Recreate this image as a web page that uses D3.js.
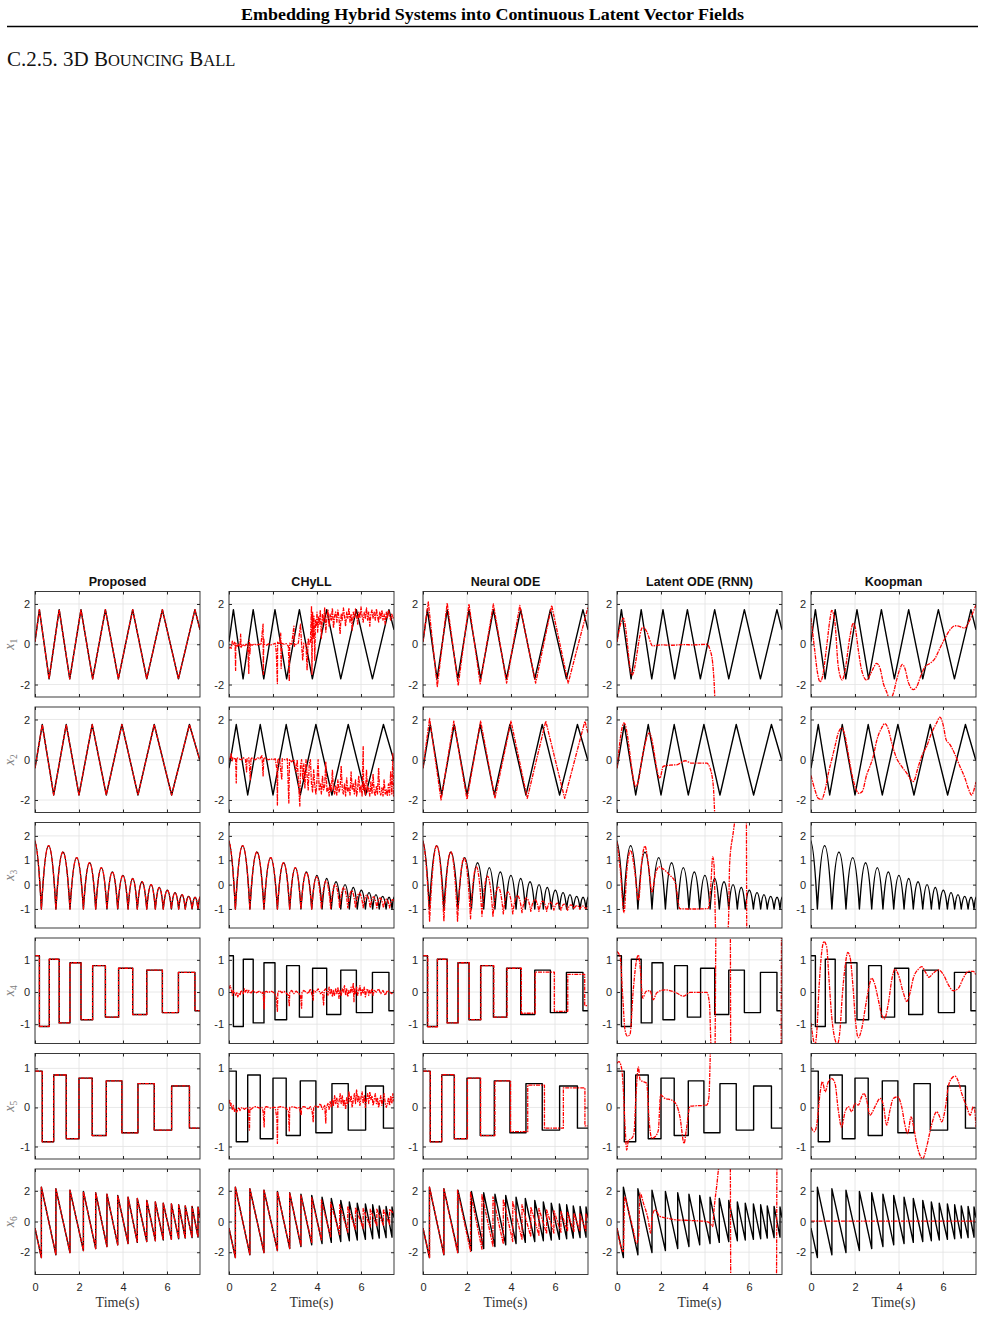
<!DOCTYPE html>
<html>
<head>
<meta charset="utf-8">
<title>3D Bouncing Ball</title>
<script src="https://cdn.jsdelivr.net/npm/d3@7"></script>
<style>
  body { margin: 0; background: #fff; }
  svg text { font-family: "Liberation Sans", Arial, sans-serif; }
  svg text.serif { font-family: "Liberation Serif", "Times New Roman", serif; }
  .tick text { font-size: 11px; fill: #262626; }
  .grid line { stroke: #e2e2e2; stroke-width: 0.8; }
  .truth { fill: none; stroke: #000; stroke-width: 1.4; stroke-linejoin: round; }
  .pred { fill: none; stroke: #f00; stroke-width: 1.3; stroke-dasharray: 4 1 1.5 1; stroke-linejoin: round; }
</style>
</head>
<body>
<script>
var W = 985, H = 1317;

// ---- labels / axes ----
var methods = ["Proposed", "CHyLL", "Neural ODE", "Latent ODE (RNN)", "Koopman"];
var stateIdx = ["1", "2", "3", "4", "5", "6"];
var timeTicks = [0, 2, 4, 6];
var timeMax = 7.5;
var yLimits = [[-2.62, 2.62], [-2.62, 2.62], [-1.78, 2.55], [-1.6, 1.68], [-1.32, 1.38], [-3.45, 3.42]];
var yTicks = [[-2, 0, 2], [-2, 0, 2], [-1, 0, 1, 2], [-1, 0, 1], [-1, 0, 1], [-2, 0, 2]];

// ---- ground truth ----
var x1True = [[0,0.13],[0.2,1.72],[0.64,-1.72],[1.1,1.72],[1.58,-1.72],[2.09,1.72],[2.62,-1.72],[3.2,1.72],
  [3.79,-1.72],[4.44,1.72],[5.08,-1.72],[5.79,1.72],[6.52,-1.72],[7.27,1.72],[7.5,0.72]];
var x2True = [[0,-0.42],[0.33,1.75],[0.85,-1.75],[1.42,1.75],[2.0,-1.75],[2.6,1.75],[3.24,-1.75],[3.95,1.75],
  [4.68,-1.75],[5.42,1.75],[6.21,-1.75],[7.02,1.75],[7.5,-0.05]];
var x3Bounce = [-0.38,0.29,0.95,1.59,2.2,2.76,3.27,3.76,4.23,4.65,5.08,5.47,5.83,6.2,6.53,6.83,7.14,7.41,7.62];
var x3Peak = [1.85,1.6,1.34,1.11,0.9,0.7,0.52,0.38,0.25,0.12,0.0,-0.12,-0.23,-0.33,-0.41,-0.48,-0.52,-0.5];
var x4Switch = [0.2,0.65,1.1,1.59,2.09,2.62,3.2,3.8,4.44,5.08,5.79,6.52,7.27];
var x4Level = [1.13,-1.07,1.02,-0.96,0.91,-0.86,0.82,-0.78,0.74,-0.7,0.68,-0.64,0.61,-0.58];
var x5Switch = [0.33,0.85,1.42,2.0,2.6,3.24,3.95,4.68,5.42,6.21,7.02];
var x5Level = [0.93,-0.88,0.83,-0.8,0.75,-0.72,0.68,-0.65,0.61,-0.58,0.55,-0.53];
var x6Bottom = [-2.35,-2.17,-2.02,-1.89,-1.76,-1.63,-1.52,-1.43,-1.36,-1.3,-1.25,-1.2,-1.16,-1.12,-1.08,-1.05,-1.02];
var x6Top = [2.24,2.13,2.04,1.96,1.87,1.78,1.7,1.59,1.5,1.37,1.28,1.2,1.15,1.09,1.02,0.98,0.95];

// ---- CHyLL ----
var chyllX1 = [[0,-0.2],[0.05,-0.15],[0.1,-0.2],[0.15,0.15],[0.2,-0.05],[0.25,0.1],[0.28,-0.1],[0.3,-1.3],[0.31,0.05],
  [0.38,-0.1],[0.45,0],[0.5,-0.1],[0.53,0.5],[0.55,-0.15],[0.62,0],[0.7,-0.1],[0.78,0],[0.85,-0.05],[0.9,-1.45],
  [0.92,0.2],[0.95,-0.5],[0.97,0],[1.05,-0.05],[1.15,0.02],[1.25,-0.05],[1.35,0],[1.45,-0.03],[1.55,1.0],[1.56,-1.5],
  [1.58,0.3],[1.6,0],[1.7,-0.05],[1.8,0.02],[1.9,-0.03],[2.0,0],[2.1,0.05],[2.15,-0.4],[2.2,-1.95],[2.21,0.1],
  [2.3,0],[2.35,0.55],[2.37,-1.2],[2.4,0.05],[2.5,0],[2.6,0.03],[2.7,-0.1],[2.74,-1.85],[2.76,0.05],[2.85,0],
  [2.95,0.9],[2.97,-0.1],[3.05,0],[3.15,0.05],[3.25,1.0],[3.3,0],[3.35,-0.8],[3.4,0.05],[3.5,0],[3.55,-1.3],
  [3.6,0.3],[3.65,0],[3.7,0.1],[3.75,1.9],[3.77,-1.5],[3.8,1.6],[3.83,0.3],[3.86,1.4],[3.9,-0.8],[3.93,1.2],
  [3.97,0.9],[4.0,1.6],[4.03,0.6],[4.07,1.4],[4.1,1.0],[4.15,1.7],[4.2,0.3],[4.25,1.5],[4.3,1.1],[4.35,1.8],
  [4.4,0.6],[4.45,1.3],[4.5,1.7],[4.55,0.9],[4.6,1.5],[4.65,1.2],[4.7,1.8],[4.75,0.8],[4.8,1.4],[4.85,1.6],
  [4.9,1.1],[4.95,1.7],[5.0,1.3],[5.05,0.5],[5.1,1.5],[5.15,1.2],[5.2,1.8],[5.25,1.4],[5.3,0.9],[5.35,1.6],
  [5.4,1.3],[5.45,1.8],[5.5,1.1],[5.55,1.5],[5.6,0.7],[5.65,1.6],[5.7,1.3],[5.75,1.75],[5.8,1.4],[5.85,1.0],
  [5.9,1.6],[5.95,1.3],[6.0,1.85],[6.05,1.4],[6.1,1.1],[6.15,1.6],[6.2,1.3],[6.25,1.8],[6.3,1.2],[6.35,1.6],
  [6.4,0.9],[6.45,1.5],[6.5,1.7],[6.55,1.3],[6.6,1.6],[6.65,1.2],[6.7,1.75],[6.75,1.4],[6.8,1.1],[6.85,1.6],
  [6.9,1.3],[6.95,1.7],[7.0,1.2],[7.05,1.5],[7.1,1.0],[7.15,1.6],[7.2,1.3],[7.25,1.7],[7.3,1.4],[7.35,1.2],
  [7.4,1.5],[7.45,1.3],[7.5,1.4]];
var chyllX2 = [[0,0],[0.05,0.1],[0.1,0.3],[0.13,-0.1],[0.18,0.1],[0.25,0.05],[0.3,0.1],[0.33,-1.15],[0.35,0.1],
  [0.45,0.05],[0.55,0],[0.65,0.1],[0.75,0],[0.8,-0.6],[0.82,0.05],[0.9,0.1],[0.97,-1.0],[1.0,0.1],[1.1,0.05],
  [1.2,0],[1.3,0.1],[1.4,0.05],[1.5,0.2],[1.55,-0.8],[1.58,0.1],[1.7,0.05],[1.8,0],[1.9,0.05],[2.0,0],[2.1,0.05],
  [2.18,-0.5],[2.2,-2.25],[2.22,0.05],[2.3,0],[2.4,-1.0],[2.42,0.05],[2.55,0],[2.65,0.05],[2.72,-2.15],[2.75,0],
  [2.85,-0.1],[2.95,0],[3.05,-0.6],[3.1,0],[3.22,-2.3],[3.25,-0.3],[3.3,0],[3.35,-1.0],[3.4,-0.2],[3.45,-1.4],
  [3.5,0],[3.55,-0.8],[3.6,-1.5],[3.65,-0.2],[3.7,0],[3.75,-1.2],[3.8,-1.6],[3.85,-0.5],[3.9,-1.3],[3.95,-1.7],
  [4.0,-1.0],[4.05,0],[4.1,-1.5],[4.15,-1.2],[4.2,-1.7],[4.25,-0.8],[4.3,-1.5],[4.35,-1.3],[4.4,-0.1],[4.45,-1.6],
  [4.5,-1.4],[4.55,-1.8],[4.6,-1.2],[4.65,-1.6],[4.7,-0.5],[4.75,-1.5],[4.8,-1.7],[4.85,-1.3],[4.9,-1.75],
  [4.95,-1.0],[5.0,-1.6],[5.05,-1.4],[5.1,-0.3],[5.15,-1.5],[5.2,-1.7],[5.25,-1.2],[5.3,-1.8],[5.35,-0.9],
  [5.4,-1.6],[5.45,-1.4],[5.5,-1.75],[5.55,-0.6],[5.6,-1.5],[5.65,-1.2],[5.7,-1.7],[5.75,-1.0],[5.8,-1.8],
  [5.85,-1.4],[5.9,-0.8],[5.95,-1.6],[6.0,-1.3],[6.05,-1.8],[6.1,0.65],[6.12,-1.5],[6.15,-1.2],[6.2,-1.75],
  [6.25,-0.5],[6.3,-1.6],[6.35,-1.4],[6.4,-1.8],[6.45,-1.1],[6.5,-1.7],[6.55,-0.7],[6.6,-1.6],[6.65,-1.8],
  [6.7,-1.3],[6.75,-1.7],[6.8,-0.4],[6.85,-1.6],[6.9,-1.75],[6.95,-1.4],[7.0,-1.8],[7.05,-1.0],[7.1,-1.7],
  [7.15,-1.5],[7.2,-1.8],[7.25,-1.2],[7.3,-1.75],[7.35,-0.6],[7.4,-1.7],[7.45,0.3],[7.48,-1.8],[7.5,-1.7]];
var chyllBounce = [-0.38,0.29,0.95,1.59,2.2,2.76,3.27,3.76,4.2,4.62,5.03,5.4,5.75,6.1,6.42,6.72,7.02,7.3,7.58];
var chyllFloor = [-1,-1,-1,-1,-1,-1,-1,-1,-1,-0.98,-0.96,-0.95,-0.95,-0.95,-0.95,-0.95,-0.95,-0.95,-0.95];
var chyllPeak = [1.85,1.6,1.34,1.11,0.9,0.7,0.5,0.32,0.15,0.0,-0.12,-0.25,-0.35,-0.43,-0.5,-0.55,-0.6,-0.62];
var chyllX4 = [[0,0.1],[0.05,0.2],[0.1,0.1],[0.15,-0.1],[0.2,0.05],[0.25,-0.05],[0.3,-0.1],[0.35,0],[0.4,-0.15],
  [0.45,-0.05],[0.5,-0.1],[0.55,0.05],[0.6,0],[0.65,-0.05],[0.7,0.1],[0.75,0],[0.8,0.08],[0.85,-0.02],[0.9,0.05],
  [0.95,0],[1.0,-0.05],[1.05,0.02],[1.1,0.05],[1.2,-0.03],[1.3,0],[1.4,0.03],[1.5,-0.05],[1.55,0],[1.6,-0.55],
  [1.62,0],[1.7,0.02],[1.8,-0.02],[1.9,0.03],[2.0,0],[2.1,-0.05],[2.15,-0.2],[2.2,-0.6],[2.22,0],[2.3,0.05],
  [2.4,-0.02],[2.5,0.02],[2.6,-0.03],[2.7,-0.1],[2.74,-0.45],[2.76,0],[2.85,0.05],[2.95,-0.05],[3.05,0.03],
  [3.15,-0.03],[3.25,-0.1],[3.3,-0.5],[3.32,0],[3.4,0.05],[3.5,0],[3.6,-0.05],[3.7,0.1],[3.78,-0.1],[3.83,-0.25],
  [3.85,0.05],[3.95,0],[4.05,0.1],[4.15,-0.05],[4.25,0],[4.3,-0.4],[4.33,0.05],[4.4,0.1],[4.5,-0.1],[4.55,0.15],
  [4.6,-0.05],[4.65,0.1],[4.7,-0.15],[4.75,0.05],[4.8,-0.1],[4.85,0.1],[4.9,-0.05],[4.95,0.15],[5.0,-0.2],
  [5.05,0.05],[5.1,-0.1],[5.15,0.1],[5.2,0],[5.25,0.2],[5.3,-0.1],[5.35,0.1],[5.4,-0.15],[5.45,0.05],[5.5,-0.05],
  [5.55,0.15],[5.6,0],[5.65,0.28],[5.68,-0.3],[5.7,0.1],[5.75,-0.05],[5.8,0.15],[5.85,-0.1],[5.9,0.05],[5.95,0.2],
  [6.0,-0.1],[6.05,0.1],[6.1,-0.05],[6.15,0.15],[6.2,-0.15],[6.25,0.05],[6.3,0.1],[6.35,-0.1],[6.4,0.05],
  [6.45,-0.05],[6.5,0.1],[6.55,-0.1],[6.6,0.05],[6.7,0],[6.8,0.1],[6.9,-0.05],[7.0,0.05],[7.1,-0.1],[7.2,0.05],
  [7.3,0],[7.4,-0.05],[7.5,0.05]];
var chyllX5 = [[0,0.1],[0.03,0.18],[0.07,0.05],[0.1,0.1],[0.15,-0.05],[0.2,0.05],[0.25,-0.1],[0.3,-0.05],[0.35,-0.12],
  [0.4,-0.05],[0.45,0],[0.5,-0.08],[0.55,-0.02],[0.6,0],[0.7,-0.05],[0.8,0],[0.88,-0.05],[0.93,-0.58],[0.95,0],
  [1.0,-0.05],[1.1,0],[1.2,0.02],[1.3,0],[1.4,-0.02],[1.5,0],[1.55,-0.1],[1.6,-0.5],[1.62,0],[1.7,0.02],[1.8,0],
  [1.9,-0.02],[2.0,0],[2.1,0],[2.18,-0.3],[2.2,-0.92],[2.22,0],[2.35,0.02],[2.5,0],[2.6,-0.02],[2.7,-0.1],
  [2.74,-0.6],[2.76,0],[2.9,0.02],[3.0,0],[3.1,-0.02],[3.2,0],[3.28,-0.2],[3.3,0],[3.4,0.02],[3.5,0],[3.6,-0.05],
  [3.7,0.02],[3.78,-0.1],[3.83,-0.38],[3.85,0],[3.95,0.05],[4.05,0],[4.15,0.1],[4.25,-0.05],[4.35,0.05],[4.4,-0.4],
  [4.42,0],[4.5,0.1],[4.55,-0.05],[4.6,0.15],[4.65,0],[4.7,0.2],[4.75,0.05],[4.8,0.3],[4.85,0.1],[4.9,0.25],
  [4.95,0],[5.0,0.15],[5.05,0.35],[5.1,0.1],[5.15,0.3],[5.2,0.05],[5.25,0.2],[5.3,-0.05],[5.35,0.25],[5.4,0.1],
  [5.45,0.4],[5.5,0.15],[5.55,0.3],[5.6,0],[5.65,0.2],[5.7,0.35],[5.75,0.1],[5.8,0.45],[5.85,0.15],[5.9,0.3],
  [5.95,0.05],[6.0,0.25],[6.05,0.4],[6.1,0.1],[6.15,0.3],[6.2,0],[6.25,0.2],[6.3,0.35],[6.35,0.1],[6.4,0.4],
  [6.45,0.2],[6.5,0.3],[6.55,0.05],[6.6,0.2],[6.65,0.35],[6.7,0.1],[6.75,0.25],[6.8,0],[6.85,0.15],[6.9,0.3],
  [6.95,0.05],[7.0,0.2],[7.05,0.35],[7.1,0.1],[7.15,0],[7.2,0.1],[7.25,0.25],[7.3,0.05],[7.35,0.3],[7.4,0.1],
  [7.45,0.35],[7.5,0.15]];
var chyllX6Bottom = [-2.35,-2.17,-2.02,-1.89,-1.74,-1.55,-1.4,-1.2,-1.0,-0.85,-0.7,-0.55,-0.45,-0.35,-0.3,-0.25,-0.2];
var chyllX6Top = [2.24,2.13,2.04,1.96,1.85,1.7,1.55,1.4,1.25,1.1,1.0,0.9,0.85,0.8,0.8,0.8,0.8];

// ---- Neural ODE ----
var nodeX1 = [[0,0.13],[0.24,2.1],[0.65,-2.1],[1.1,2.05],[1.6,-2.05],[2.09,2.0],[2.6,-1.97],[3.2,2.0],[3.8,-1.93],
  [4.4,1.93],[5.12,-1.93],[5.85,1.93],[6.6,-1.93],[7.5,1.85]];
var nodeX2 = [[0,-0.42],[0.3,2.05],[0.82,-2.0],[1.4,1.92],[2.0,-1.97],[2.62,1.92],[3.27,-1.92],[4.0,1.92],
  [4.74,-1.92],[5.58,1.92],[6.44,-1.92],[7.36,1.92],[7.5,1.33]];
var nodeBounce = [-0.38,0.3,0.95,1.57,2.16,2.68,3.18,3.65,4.08,4.5,4.9,5.27,5.62,5.95,6.27,6.57,6.86,7.13,7.4,7.66];
var nodeFloor = [-1,-1.5,-1.5,-1.5,-1.4,-1.3,-1.3,-1.2,-1.2,-1.15,-1.1,-1.1,-1.1,-1.05,-1.05,-1.05,-1.0,-1.0,-1.0,-1.0];
var nodePeak = [1.85,1.6,1.35,1.1,0.73,0.35,-0.1,-0.3,-0.45,-0.55,-0.62,-0.68,-0.72,-0.76,-0.8,-0.83,-0.86,-0.88,-0.9];
var nodeX4Switch = [0.22,0.66,1.1,1.6,2.1,2.63,3.22,3.82,4.47,5.1,5.97,6.58,7.35];
var nodeX4Level = [1.13,-1.08,1.02,-0.96,0.91,-0.86,0.82,-0.78,0.74,-0.66,0.62,-0.6,0.55,-0.42];
var nodeX5Switch = [0.33,0.85,1.43,2.02,2.62,3.27,3.98,4.76,5.52,6.38,7.36];
var nodeX5Level = [0.93,-0.88,0.84,-0.8,0.75,-0.72,0.68,-0.62,0.57,-0.53,0.5,-0.47];
var nodeX6Bottom = [-2.35,-2.17,-2.02,-1.95,-1.8,-1.6,-1.45,-1.3,-1.15,-1.0,-0.9,-0.8,-0.75,-0.7,-0.65,-0.65,-0.6,-0.6];
var nodeX6Top = [2.24,2.13,2.04,1.9,1.75,1.6,1.45,1.3,1.1,0.95,0.85,0.75,0.7,0.65,0.6,0.55,0.5,0.5];

// ---- Latent ODE (RNN) ----
var latX1 = [[0,0.13],[0.29,1.3],[0.68,-1.53],[1.17,0.85],[1.35,0.63],[1.62,-0.08],[2.0,-0.03],[2.5,-0.05],
  [3.0,-0.02],[3.5,-0.03],[4.08,0],[4.23,-0.28],[4.35,-0.95],[4.41,-1.8],[4.47,-3.0],[7.5,-3.0]];
var latX2 = [[0,-0.42],[0.32,1.83],[0.86,-1.33],[0.95,-1.15],[1.17,0.25],[1.47,1.33],[1.95,-0.92],[2.1,-0.33],
  [2.4,-0.27],[2.71,-0.25],[3.1,-0.05],[3.4,-0.17],[4.08,-0.17],[4.23,-0.42],[4.38,-1.33],[4.47,-3.0],[7.5,-3.0]];
var latX3 = [[0,1.75],[0.15,0.6],[0.32,-1.15],[0.45,0.6],[0.62,1.41],[0.8,0.6],[0.98,-0.64],[1.12,0.9],[1.27,1.58],
  [1.43,0.8],[1.59,-0.3],[1.75,0.45],[1.91,0.73],[2.03,0.68],[2.41,0.38],[2.64,0.11],[2.86,-0.99],[3.2,-1.0],
  [3.6,-1.0],[4.15,-0.98],[4.26,-0.1],[4.35,1.14],[4.41,0.8],[4.5,-2.2],[4.9,-2.2],[5.06,-1.7],[5.12,0.86],
  [5.27,2.05],[5.42,2.8],[5.88,2.8],[5.9,-2.2],[7.5,-2.2]];
var latX4 = [[0,1.26],[0.14,1.1],[0.26,-0.13],[0.36,-1.16],[0.47,-1.37],[0.59,-1.32],[0.74,0.07],[0.89,1.0],
  [0.97,1.15],[1.05,0.8],[1.17,-0.19],[1.32,0.02],[1.5,0.04],[1.65,-0.24],[1.8,-0.03],[2.18,0.07],[2.71,-0.03],
  [3.02,-0.13],[3.32,-0.01],[4.08,-0.01],[4.2,-0.34],[4.3,-2.0],[4.45,-2.0],[4.5,2.0],[5.15,2.0],[5.17,-2.0],
  [7.46,-2.0],[7.48,2.0],[7.5,2.0]];
var latX5 = [[0,1.13],[0.09,1.17],[0.21,1.0],[0.29,0.44],[0.36,-0.41],[0.44,-1.09],[0.52,-0.84],[0.67,-0.79],
  [0.77,-0.67],[0.86,0.27],[0.97,1.04],[1.05,0.7],[1.2,0.66],[1.35,0.62],[1.47,-0.41],[1.58,-0.79],[1.73,-0.75],
  [1.88,-0.58],[1.98,0.32],[2.18,0.23],[2.48,0.19],[2.71,0.06],[2.86,-0.24],[3.05,-0.92],[3.15,-0.58],[3.32,0.03],
  [4.08,0.06],[4.18,0.27],[4.23,1.13],[4.27,2.0],[7.5,2.0]];
var latX6 = [[0,-0.43],[0.29,-1.96],[0.35,1.63],[0.47,0.98],[0.74,-0.54],[0.89,-1.41],[0.98,-0.98],[1.05,1.85],
  [1.2,1.2],[1.42,0.11],[1.53,-0.76],[1.6,0.33],[1.73,0.76],[1.95,0.33],[2.26,0.22],[2.71,0.11],[3.32,0.07],
  [4.08,0],[4.23,-0.11],[4.35,-0.33],[4.41,0.76],[4.53,2.28],[4.65,3.6],[5.15,3.6],[5.17,-3.6],[7.25,-3.6],
  [7.27,3.6],[7.5,3.6]];

// ---- Koopman ----
var koopX1 = [[0,1.3],[0.15,-0.12],[0.3,-1.45],[0.41,-1.87],[0.52,-1.62],[0.71,-0.12],[0.86,1.22],[0.94,1.68],
  [1.09,1.05],[1.24,-1.12],[1.42,-1.78],[1.55,-1.28],[1.77,0.38],[1.92,1.05],[2.0,0.88],[2.15,-0.28],[2.3,-1.28],
  [2.53,-1.78],[2.68,-1.53],[2.83,-1.2],[2.98,-0.95],[3.14,-1.2],[3.29,-1.95],[3.44,-2.37],[3.59,-2.75],[3.74,-2.45],
  [3.89,-1.78],[4.05,-1.2],[4.15,-1.0],[4.27,-1.2],[4.42,-1.87],[4.65,-2.25],[4.8,-2.12],[5.03,-1.45],[5.18,-1.12],
  [5.41,-0.95],[5.64,-0.7],[5.86,-0.2],[6.09,0.3],[6.32,0.72],[6.55,0.92],[6.77,0.88],[6.97,0.8],[7.15,1.05],
  [7.38,1.63],[7.5,1.95]];
var koopX2 = [[0,-0.78],[0.18,-1.5],[0.33,-1.92],[0.48,-1.97],[0.64,-1.5],[0.79,-0.67],[0.94,0],[1.09,0.67],
  [1.24,1.33],[1.39,1.58],[1.55,1.17],[1.7,0.25],[1.85,-0.67],[2.0,-1.33],[2.18,-1.67],[2.33,-1.58],[2.53,-0.75],
  [2.68,-0.33],[2.83,0.17],[2.98,0.92],[3.21,1.58],[3.36,1.8],[3.52,1.5],[3.67,0.83],[3.89,0.08],[4.12,-0.33],
  [4.35,-0.67],[4.55,-1.0],[4.65,-1.08],[4.88,-0.33],[5.06,0.25],[5.26,0.67],[5.48,1.33],[5.71,1.83],[5.86,2.12],
  [6.02,1.67],[6.14,1.0],[6.32,0.75],[6.55,0.25],[6.77,-0.33],[7.0,-0.92],[7.15,-1.42],[7.3,-1.75],[7.45,-1.33],
  [7.5,-1.1]];
var koopX4 = [[0,-0.96],[0.08,-1.37],[0.18,-1.65],[0.27,-1.16],[0.36,0.07],[0.48,1.2],[0.59,1.57],[0.71,1.41],
  [0.82,0.38],[0.94,-0.75],[1.09,-1.47],[1.2,-1.62],[1.32,-1.16],[1.42,-0.13],[1.55,0.79],[1.67,1.23],[1.77,1.1],
  [1.92,0.07],[2.03,-0.96],[2.15,-1.42],[2.3,-1.16],[2.48,-0.44],[2.64,0.18],[2.76,0.43],[2.88,0.28],[3.06,-0.24],
  [3.21,-0.7],[3.33,-0.84],[3.52,-0.34],[3.67,0.38],[3.82,0.71],[3.97,0.54],[4.2,-0.03],[4.35,-0.29],[4.5,-0.03],
  [4.65,0.43],[4.88,0.71],[5.03,0.79],[5.21,0.61],[5.36,0.46],[5.56,0.59],[5.79,0.69],[6.02,0.54],[6.24,0.23],
  [6.47,0.04],[6.7,0.12],[6.92,0.43],[7.15,0.64],[7.38,0.64],[7.5,0.52]];
var koopX5 = [[0,-0.5],[0.15,-0.62],[0.27,-0.41],[0.41,0.36],[0.52,0.66],[0.64,0.4],[0.79,0.66],[0.94,0.74],
  [1.09,0.62],[1.24,-0.07],[1.39,-0.5],[1.55,-0.11],[1.7,0.02],[1.85,-0.11],[2.0,0.1],[2.15,0.06],[2.3,0.27],
  [2.41,0.36],[2.53,0.19],[2.68,-0.2],[2.91,0.02],[3.14,0.23],[3.29,0.06],[3.44,-0.45],[3.59,-0.07],[3.74,0.23],
  [3.94,0.27],[4.12,0.02],[4.27,-0.45],[4.39,-0.67],[4.55,-0.24],[4.65,-0.45],[4.8,-0.92],[4.95,-1.22],[5.08,-1.31],
  [5.26,-1.0],[5.48,-0.45],[5.71,-0.11],[5.82,-0.2],[5.94,-0.37],[6.09,-0.07],[6.24,0.53],[6.39,0.74],[6.55,0.8],
  [6.7,0.66],[6.85,0.36],[7.08,0.02],[7.23,-0.2],[7.38,0.02],[7.42,0.0],[7.5,-0.5]];
var koopX6 = [[0,0.02],[7.5,0.02]];

// ---- series table ----
var truth = [
  {kind: "line", pts: x1True},
  {kind: "line", pts: x2True},
  {kind: "arcs", bounces: x3Bounce, floor: -1, peaks: x3Peak},
  {kind: "step", at: x4Switch, levels: x4Level},
  {kind: "step", at: x5Switch, levels: x5Level},
  {kind: "saw", start: -0.43, bounces: x3Bounce, bottoms: x6Bottom, tops: x6Top, end: 0.25}
];
var mono = d3.curveMonotoneX;
var preds = [
  truth,
  [
    {kind: "line", pts: chyllX1},
    {kind: "line", pts: chyllX2},
    {kind: "arcs", bounces: chyllBounce, floors: chyllFloor, peaks: chyllPeak},
    {kind: "line", pts: chyllX4},
    {kind: "line", pts: chyllX5},
    {kind: "saw", start: -0.43, bounces: chyllBounce, bottoms: chyllX6Bottom, tops: chyllX6Top, end: 0.5}
  ],
  [
    {kind: "line", pts: nodeX1},
    {kind: "line", pts: nodeX2},
    {kind: "arcs", bounces: nodeBounce, floors: nodeFloor, peaks: nodePeak},
    {kind: "step", at: nodeX4Switch, levels: nodeX4Level},
    {kind: "step", at: nodeX5Switch, levels: nodeX5Level},
    {kind: "saw", start: -0.43, bounces: nodeBounce, bottoms: nodeX6Bottom, tops: nodeX6Top, end: 0.2}
  ],
  [
    {kind: "line", pts: latX1, curve: mono},
    {kind: "line", pts: latX2, curve: mono},
    {kind: "line", pts: latX3, curve: mono},
    {kind: "line", pts: latX4, curve: mono},
    {kind: "line", pts: latX5, curve: mono},
    {kind: "line", pts: latX6, curve: mono}
  ],
  [
    {kind: "line", pts: koopX1, curve: mono},
    {kind: "line", pts: koopX2, curve: mono},
    null,
    {kind: "line", pts: koopX4, curve: mono},
    {kind: "line", pts: koopX5, curve: mono},
    {kind: "line", pts: koopX6}
  ]
];

// ---- layout ----
var colLeft0 = 35, colStep = 194, pw = 165;
var rowTop0 = 591.5, rowStep = 115.5, ph = 105.5;
var num = function(d) { return String(d); };

var svg = d3.select("body").append("svg").attr("width", W).attr("height", H);

// page header
svg.append("text").attr("class", "serif").attr("x", 492.5).attr("y", 19.5)
  .attr("text-anchor", "middle")
  .attr("font-weight", "bold").attr("font-size", 17.5)
  .attr("textLength", 503).attr("lengthAdjust", "spacingAndGlyphs")
  .text("Embedding Hybrid Systems into Continuous Latent Vector Fields");
svg.append("line").attr("x1", 7).attr("x2", 978).attr("y1", 26.5).attr("y2", 26.5)
  .attr("stroke", "#000").attr("stroke-width", 1.6);
var sec = svg.append("text").attr("class", "serif").attr("x", 7).attr("y", 66)
  .attr("font-size", 21).attr("fill", "#111");
sec.append("tspan").text("C.2.5. 3D B");
sec.append("tspan").attr("font-size", 16.5).text("OUNCING");
sec.append("tspan").text(" B");
sec.append("tspan").attr("font-size", 16.5).text("ALL");

function drawSeries(g, s, x, y, cls) {
  if (!s) return;
  if (s.kind === "arcs") {
    var p = d3.path();
    var fl = function(k) { return s.floors ? s.floors[k] : s.floor; };
    s.peaks.forEach(function(pk, k) {
      var t0 = s.bounces[k], t1 = s.bounces[k + 1], f0 = fl(k), f1 = fl(k + 1);
      if (k === 0) p.moveTo(x(t0), y(f0));
      p.quadraticCurveTo(x((t0 + t1) / 2), y(2 * pk - (f0 + f1) / 2), x(t1), y(f1));
    });
    g.append("path").attr("class", cls).attr("d", p.toString());
    return;
  }
  var pts, curve = d3.curveLinear;
  if (s.kind === "line") {
    pts = s.pts;
    curve = s.curve || d3.curveLinear;
  } else if (s.kind === "step") {
    pts = [[0, s.levels[0]]]
      .concat(s.at.map(function(t, k) { return [t, s.levels[k + 1]]; }))
      .concat([[timeMax, s.levels[s.levels.length - 1]]]);
    curve = d3.curveStepAfter;
  } else if (s.kind === "saw") {
    pts = [[0, s.start]];
    s.bounces.slice(1, -1).forEach(function(t, k) {
      pts.push([t, s.bottoms[k]], [t, s.tops[k]]);
    });
    pts.push([timeMax, s.end]);
  }
  var line = d3.line().x(function(d) { return x(d[0]); }).y(function(d) { return y(d[1]); }).curve(curve);
  g.append("path").attr("class", cls).attr("d", line(pts));
}

methods.forEach(function(m, i) {
  var left = colLeft0 + i * colStep;
  svg.append("text").attr("x", left + pw / 2).attr("y", 586)
    .attr("text-anchor", "middle").attr("font-weight", "bold").attr("font-size", 12.5)
    .attr("fill", "#111").text(m);

  stateIdx.forEach(function(sIdx, j) {
    var top = rowTop0 + j * rowStep;
    var x = d3.scaleLinear().domain([0, timeMax]).range([left, left + pw]);
    var y = d3.scaleLinear().domain(yLimits[j]).range([top + ph, top]);
    var g = svg.append("g");
    var cid = "clip-" + i + "-" + j;
    g.append("clipPath").attr("id", cid).append("rect")
      .attr("x", left).attr("y", top).attr("width", pw).attr("height", ph);

    // grid
    var grid = g.append("g").attr("class", "grid");
    grid.selectAll(".gx").data(timeTicks).join("line")
      .attr("x1", function(d) { return x(d); }).attr("x2", function(d) { return x(d); })
      .attr("y1", top).attr("y2", top + ph);
    grid.selectAll(".gy").data(yTicks[j]).join("line")
      .attr("x1", left).attr("x2", left + pw)
      .attr("y1", function(d) { return y(d); }).attr("y2", function(d) { return y(d); });

    // lines
    var plot = g.append("g").attr("clip-path", "url(#" + cid + ")");
    drawSeries(plot, truth[j], x, y, "truth");
    drawSeries(plot, preds[i][j], x, y, "pred");

    // axes
    var axCol = "#262626";
    g.append("g").attr("transform", "translate(" + left + ",0)").attr("color", axCol)
      .call(d3.axisLeft(y).tickValues(yTicks[j]).tickSize(-3).tickSizeOuter(0).tickPadding(5).tickFormat(num))
      .call(function(a) { a.select(".domain").remove(); });
    g.append("g").attr("transform", "translate(" + (left + pw) + ",0)").attr("color", axCol)
      .call(d3.axisRight(y).tickValues(yTicks[j]).tickSize(-3).tickSizeOuter(0).tickFormat(""))
      .call(function(a) { a.select(".domain").remove(); });
    g.append("g").attr("transform", "translate(0," + top + ")").attr("color", axCol)
      .call(d3.axisTop(x).tickValues(timeTicks).tickSize(-3).tickSizeOuter(0).tickFormat(""))
      .call(function(a) { a.select(".domain").remove(); });
    g.append("g").attr("transform", "translate(0," + (top + ph) + ")").attr("color", axCol)
      .call(d3.axisBottom(x).tickValues(timeTicks).tickSize(-3).tickSizeOuter(0).tickPadding(8.5)
        .tickFormat(j === stateIdx.length - 1 ? num : ""))
      .call(function(a) { a.select(".domain").remove(); });
    g.append("rect").attr("x", left).attr("y", top).attr("width", pw).attr("height", ph)
      .attr("fill", "none").attr("stroke", axCol).attr("stroke-width", 0.9);

    // state label on first column
    if (i === 0) {
      var lab = svg.append("text").attr("class", "serif")
        .attr("transform", "translate(14," + (top + ph / 2) + ") rotate(-90)")
        .attr("text-anchor", "middle")
        .attr("font-style", "italic").attr("font-size", 14).attr("fill", "#808080");
      lab.append("tspan").text("x");
      lab.append("tspan").attr("font-size", 9.5).attr("font-style", "normal").attr("dy", 3).text(sIdx);
    }
    // time label on last row
    if (j === stateIdx.length - 1) {
      svg.append("text").attr("class", "serif").attr("x", left + pw / 2).attr("y", 1307)
        .attr("text-anchor", "middle")
        .attr("font-size", 14).attr("fill", "#333").text("Time(s)");
    }
  });
});
</script>
</body>
</html>
